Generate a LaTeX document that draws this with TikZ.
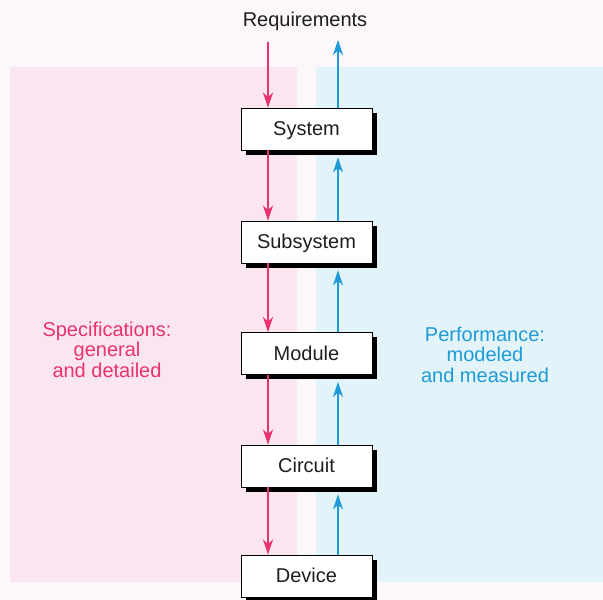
\documentclass[tikz,border=0pt]{standalone}
\usepackage{fontspec}
\setmainfont{Liberation Sans}
\usetikzlibrary{arrows.meta,shadows}
\definecolor{bgc}{RGB}{251,247,250}
\definecolor{pinkpanel}{RGB}{249,230,240}
\definecolor{bluepanel}{RGB}{226,244,249}
\definecolor{pinkc}{RGB}{234,50,108}
\definecolor{bluec}{RGB}{30,155,215}
\definecolor{textc}{RGB}{30,30,30}
\tikzset{
  lvl/.style={draw=black, line width=0.9pt, fill=white, minimum width=131pt, minimum height=42pt,
    inner sep=0pt, text=textc, font=\fontsize{20}{24}\selectfont, text depth=1pt,
    drop shadow={shadow xshift=5pt, shadow yshift=-4.5pt, fill=black, opacity=1}},
  pinkarrow/.style={draw=pinkc, line width=1.2pt, -{Stealth[length=15pt,width=10pt,inset=4.5pt]}},
  bluearrow/.style={draw=bluec, line width=1.2pt, -{Stealth[length=15pt,width=10pt,inset=4.5pt]}},
  sidelabel/.style={align=center, font=\fontsize{20}{20.5}\selectfont}
}
\begin{document}
\begin{tikzpicture}[x=1pt,y=-1pt]
\useasboundingbox (0,0) rectangle (603,600);
\fill[bgc] (0,0) rectangle (603,600);
\fill[pinkpanel] (10,67) rectangle (297,582);
\fill[bluepanel] (316,67) rectangle (603,582);

\node[text=textc, font=\fontsize{20}{24}\selectfont] (req) at (305,21) {Requirements};
\coordinate (reqL) at (268,42);
\coordinate (reqR) at (338,40);

\node[lvl] (sys) at (306.5,129) {System};
\node[lvl] (sub) at (306.5,242) {Subsystem};
\node[lvl] (mod) at (306.5,353.5) {Module};
\node[lvl] (cir) at (306.5,466) {Circuit};
\node[lvl] (dev) at (306.5,576) {Device};

\draw[pinkarrow] (reqL) -- ([xshift=-38.5pt]sys.north);
\draw[bluearrow] ([xshift=31.5pt]sys.north) -- (reqR);
\foreach \a/\b in {sys/sub, sub/mod, mod/cir, cir/dev}{
  \draw[pinkarrow] ([xshift=-38.5pt]\a.south) -- ([xshift=-38.5pt]\b.north);
  \draw[bluearrow] ([xshift=31.5pt]\b.north) -- ([xshift=31.5pt,yshift=-7pt]\a.south);
}

\node[sidelabel, text=pinkc] (spec) at (107,349.5) {Specifications:\\general\\and detailed};
\node[sidelabel, text=bluec] (perf) at (485,354.5) {Performance:\\modeled\\and measured};
\end{tikzpicture}
\end{document}
